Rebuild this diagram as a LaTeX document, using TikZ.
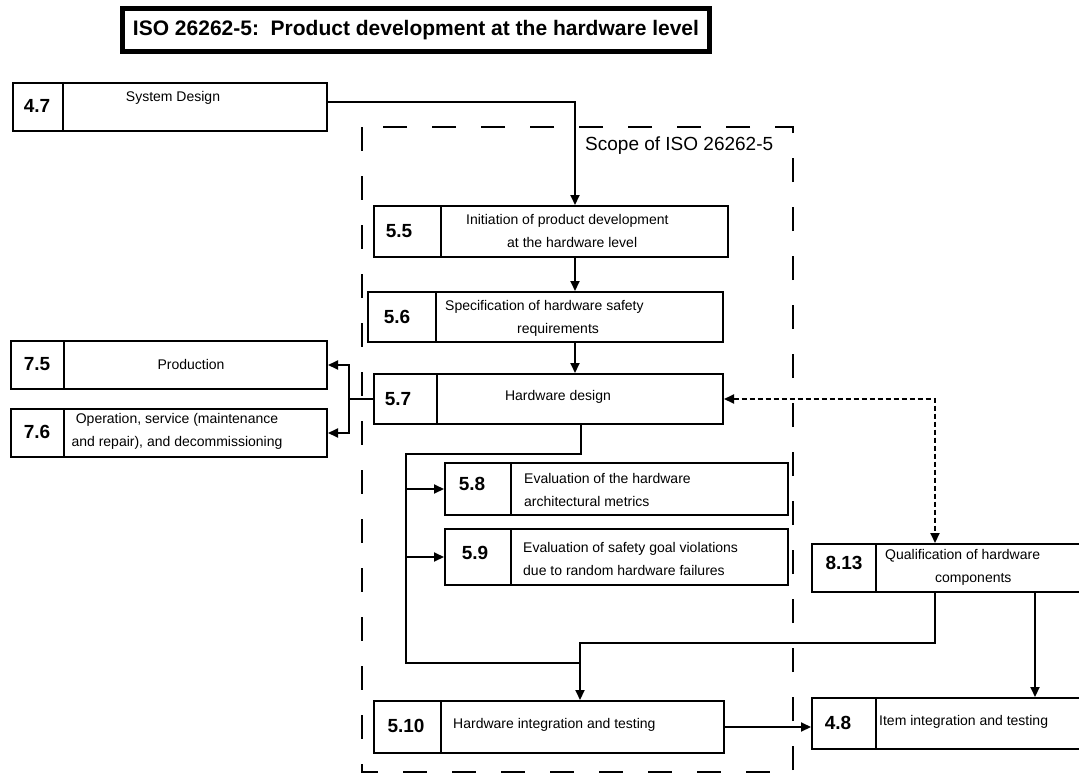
\documentclass[tikz,border=0pt]{standalone}
\usepackage{fontspec}
\setmainfont{Liberation Sans}
\usetikzlibrary{arrows.meta}
\begin{document}
\begin{tikzpicture}[x=1pt,y=-1pt,
  blk/.style={draw, line width=2pt, inner sep=0pt, anchor=north west},
  num/.style={font=\bfseries\fontsize{19}{22}\selectfont, inner sep=0pt},
  lbl/.style={font=\fontsize{14}{23}\selectfont, inner sep=0pt},
  flow/.style={line width=2pt},
  arr/.style={flow, -{Triangle[length=10pt,width=9pt]}},
  dotarr/.style={line width=2pt, dash pattern=on 5pt off 3pt,
    {Triangle[length=10pt,width=9pt]}-{Triangle[length=10pt,width=9pt]}},
  scopeline/.style={line width=2.2pt, dash pattern=on 24pt off 25pt}
]
\useasboundingbox (0,0) rectangle (1079,776);

% title
\node[draw, line width=5pt, minimum width=587pt, minimum height=43pt, inner sep=0pt,
  font=\bfseries\fontsize{21}{23}\selectfont] (title) at (416,30)
  {ISO 26262-5:\ \ Product development at the hardware level};

% scope frame
\draw[scopeline] (362,127) rectangle (793,772);
\node[font=\fontsize{19}{21}\selectfont, anchor=west, inner sep=0pt] (scopelbl) at (585,146) {Scope of ISO 26262-5};

% blocks
\node[blk, minimum width=314pt, minimum height=48pt] (b47) at (12,82) {};
\node[blk, minimum width=354pt, minimum height=51pt] (b55) at (373,205) {};
\node[blk, minimum width=355pt, minimum height=50pt] (b56) at (367,291) {};
\node[blk, minimum width=349pt, minimum height=50pt] (b57) at (373,373) {};
\node[blk, minimum width=316pt, minimum height=48pt] (b75) at (10,340) {};
\node[blk, minimum width=316pt, minimum height=48pt] (b76) at (10,408) {};
\node[blk, minimum width=343pt, minimum height=52pt] (b58) at (444,462) {};
\node[blk, minimum width=343pt, minimum height=56pt] (b59) at (444,528) {};
\node[blk, minimum width=280pt, minimum height=48pt] (b813) at (811,543) {};
\node[blk, minimum width=350pt, minimum height=52pt] (b510) at (373,700) {};
\node[blk, minimum width=280pt, minimum height=51pt] (b48) at (811,697) {};

% number cell dividers
\foreach \b/\d in {b47/51, b55/68, b56/69, b57/64, b75/54, b76/54, b58/67, b59/67, b813/65, b510/68, b48/65}
  \draw[flow] ([xshift=\d pt]\b.north west) -- ([xshift=\d pt]\b.south west);

% clause numbers
\node[num] (n47) at (37,106) {4.7};
\node[num] (n55) at (399,231) {5.5};
\node[num] (n56) at (397,317) {5.6};
\node[num] (n57) at (398,399) {5.7};
\node[num] (n75) at (37,364) {7.5};
\node[num] (n76) at (37,432) {7.6};
\node[num] (n58) at (472,484) {5.8};
\node[num] (n59) at (475,553) {5.9};
\node[num] (n813) at (844,563) {8.13};
\node[num] (n510) at (406,726) {5.10};
\node[num] (n48) at (838,723) {4.8};

% clause titles
\node[lbl] (t47) at (173,98) {System Design};
\node[lbl, anchor=west, align=left] (t55) at (466,231) {Initiation of product development\\\hspace*{41pt}at the hardware level};
\node[lbl, anchor=west, align=left] (t56) at (445,318) {Specification of hardware safety\\\hspace*{72pt}requirements};
\node[lbl] (t57) at (558,397) {Hardware design};
\node[lbl] (t75) at (191,364) {Production};
\node[lbl, align=center] (t76) at (177,431) {Operation, service (maintenance\\and repair), and decommissioning};
\node[lbl, anchor=west, align=left] (t58) at (524,490) {Evaluation of the hardware\\architectural metrics};
\node[lbl, anchor=west, align=left] (t59) at (523,559) {Evaluation of safety goal violations\\due to random hardware failures};
\node[lbl, anchor=west, align=left] (t813) at (885,567) {Qualification of hardware\\\hspace*{50pt}components};
\node[lbl, anchor=west] (t510) at (453,725) {Hardware integration and testing};
\node[lbl, anchor=west] (t48) at (879,722) {Item integration and testing};

% routing columns
\coordinate (c575) at (575,0);
\coordinate (c580) at (580,0);
\coordinate (c581) at (581,0);
\coordinate (c935) at (935,0);
\coordinate (c1035) at (1035,0);
\coordinate (bustop) at (406,454);
\coordinate (join) at (580,663);
\coordinate (qbend) at (580,643);

% connectors
\draw[arr] ([yshift=5pt]b47.east) -| (b55.north -| c575);
\draw[arr] (b55.south -| c575) -- (b56.north -| c575);
\draw[arr] (b56.south -| c575) -- (b57.north -| c575);

\draw[flow] (b57.west) -- ++(-24,0) coordinate (split);
\draw[arr] (split) |- (b75.east);
\draw[arr] (split) |- (b76.east);

\draw[flow] (b57.south -| c581) |- (bustop) |- (join);
\draw[arr] (bustop |- b58.west) -- (b58.west);
\draw[arr] (bustop |- b59.west) -- (b59.west);

\draw[dotarr] (b57.east) -| (b813.north -| c935);

\draw[arr] (b813.south -| c935) |- (qbend) -- (b510.north -| c580);
\draw[arr] (b813.south -| c1035) -- (b48.north -| c1035);
\draw[arr] (b510.east) -- (b510.east -| b48.west);
\end{tikzpicture}
\end{document}
